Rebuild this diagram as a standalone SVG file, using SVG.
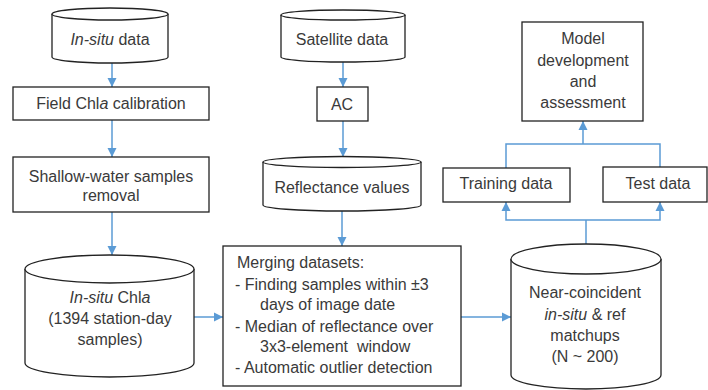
<svg xmlns="http://www.w3.org/2000/svg" width="708" height="390" viewBox="0 0 708 390">
<defs>
<marker id="arr" markerUnits="userSpaceOnUse" markerWidth="10" markerHeight="10" refX="9" refY="5" orient="auto">
<path d="M0,0.5 L9,5 L0,9.5 Z" fill="#5B9BD5"/>
</marker>
<style>
.n{fill:#fff;stroke:#222;stroke-width:1.3}
.c{fill:none;stroke:#5B9BD5;stroke-width:1.5}
.a{marker-end:url(#arr)}
text{font-family:"Liberation Sans","Open Sans",Arial,sans-serif;font-size:16px;fill:#3a3a3a}
.m{text-anchor:middle}
.i{font-style:italic}
</style>
</defs>
<rect width="708" height="390" fill="#fff"/>

<g id="connectors">
<line class="c a" x1="112" y1="63" x2="112" y2="87"/>
<line class="c a" x1="112" y1="120" x2="112" y2="157"/>
<line class="c a" x1="112" y1="212" x2="112" y2="255"/>
<line class="c a" x1="343" y1="62" x2="343" y2="87"/>
<line class="c a" x1="343" y1="121" x2="343" y2="157"/>
<line class="c a" x1="342" y1="211" x2="342" y2="246"/>
<line class="c a" x1="194" y1="317" x2="223" y2="317"/>
<line class="c a" x1="461" y1="317" x2="511" y2="317"/>
<polyline class="c" points="586,244 586,220"/>
<polyline class="c a" points="586,220 506,220 506,202"/>
<polyline class="c a" points="586,220 660,220 660,202"/>
<polyline class="c" points="506,168 506,144 660,144 660,167"/>
<line class="c a" x1="583" y1="144" x2="583" y2="121"/>
</g>

<g id="insitu-data">
<path class="n" d="M52,57 L52,14 A58,6 0 0 1 168,14 L168,57 A58,6 0 0 1 52,57 Z"/>
<path class="n" d="M52,14 A58,6 0 0 0 168,14" fill="none"/>
<text class="m" x="110" y="45"><tspan class="i">In-situ</tspan> data</text>
</g>

<g id="field-calibration">
<rect class="n" x="13" y="87" width="196" height="33"/>
<text class="m" x="111" y="109">Field Chl<tspan class="i">a</tspan> calibration</text>
</g>

<g id="shallow-removal">
<rect class="n" x="13" y="157" width="196" height="55"/>
<text class="m" x="111" y="182">Shallow-water samples</text>
<text class="m" x="111" y="201">removal</text>
</g>

<g id="insitu-chla">
<path class="n" d="M25,363 L25,269 A84.5,14 0 0 1 194,269 L194,363 A84.5,14 0 0 1 25,363 Z"/>
<path class="n" d="M25,269 A84.5,14 0 0 0 194,269" fill="none"/>
<text class="m" x="110" y="303"><tspan class="i">In-situ</tspan> Chl<tspan class="i">a</tspan></text>
<text class="m" x="110" y="324">(1394 station-day</text>
<text class="m" x="110" y="345">samples)</text>
</g>

<g id="satellite-data">
<path class="n" d="M281,57 L281,15 A62,5 0 0 1 405,15 L405,57 A62,5 0 0 1 281,57 Z"/>
<path class="n" d="M281,15 A62,5 0 0 0 405,15" fill="none"/>
<text class="m" x="342" y="45">Satellite data</text>
</g>

<g id="ac">
<rect class="n" x="317" y="87" width="51" height="34"/>
<text class="m" x="342" y="110">AC</text>
</g>

<g id="reflectance">
<path class="n" d="M263,205 L263,162 A79,5.5 0 0 1 421,162 L421,205 A79,6 0 0 1 263,205 Z"/>
<path class="n" d="M263,162 A79,5.5 0 0 0 421,162" fill="none"/>
<text class="m" x="342" y="193">Reflectance values</text>
</g>

<g id="merging">
<rect class="n" x="223" y="246" width="238" height="140"/>
<text x="237" y="268">Merging datasets:</text>
<text x="235" y="290">- Finding samples within ±3</text>
<text x="260" y="310">days of image date</text>
<text x="235" y="332">- Median of reflectance over</text>
<text x="260" y="352">3x3-element&#160; window</text>
<text x="235" y="373">- Automatic outlier detection</text>
</g>

<g id="near-coincident">
<path class="n" d="M511,375 L511,259 A75,15 0 0 1 661,259 L661,375 A75,14 0 0 1 511,375 Z"/>
<path class="n" d="M511,259 A75,15 0 0 0 661,259" fill="none"/>
<text class="m" x="585" y="298">Near-coincident</text>
<text class="m" x="585" y="320"><tspan class="i">in-situ</tspan> &amp; ref</text>
<text class="m" x="585" y="341">matchups</text>
<text class="m" x="585" y="362">(N ~ 200)</text>
</g>

<g id="training">
<rect class="n" x="443" y="168" width="127" height="34"/>
<text class="m" x="506" y="189">Training data</text>
</g>

<g id="test">
<rect class="n" x="603" y="167" width="104" height="35"/>
<text class="m" x="658" y="189">Test data</text>
</g>

<g id="model">
<rect class="n" x="522" y="22" width="121" height="99"/>
<text class="m" x="583" y="44">Model</text>
<text class="m" x="583" y="66">development</text>
<text class="m" x="583" y="87">and</text>
<text class="m" x="583" y="108">assessment</text>
</g>
</svg>
